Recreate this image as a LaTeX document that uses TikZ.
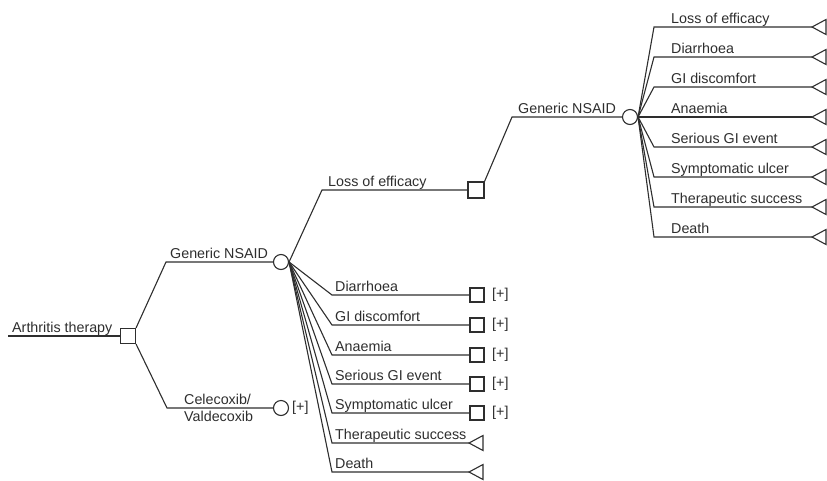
\documentclass[tikz,border=0pt]{standalone}
\usepackage{fontspec}
\setmainfont{Liberation Sans}
\begin{document}
\begin{tikzpicture}[x=1pt,y=-1pt,
  ink/.style={draw=black!82, line width=1.1pt},
  edge/.style={ink, line join=miter},
  decision/.style={ink, rectangle, minimum size=15pt, inner sep=0pt},
  chance/.style={ink, circle, minimum size=15pt, inner sep=0pt},
  lbl/.style={anchor=base west, inner sep=0pt, font=\fontsize{14.3}{16}\selectfont, text=black!82},
  plus/.style={anchor=west, inner sep=0pt, font=\fontsize{14.3}{16}\selectfont, text=black!82},
  pics/terminal/.style={code={\draw[edge] (0,0) -- (14,-7.5) -- (14,7.5) -- cycle;}},
]
\useasboundingbox (0,0) rectangle (827,480);

% root decision
\coordinate (in) at (8,336);
\node[decision] (root) at (128,336) {};
\draw[edge] (in) -- (root.west);
\node[lbl] at (12,332) {Arthritis therapy};

% option: generic NSAID
\coordinate (e1) at (166,262);
\node[chance] (n1) at (281,262) {};
\draw[edge] (root.north east) -- (e1) -- (n1.west);
\node[lbl] at (170,258) {Generic NSAID};

% option: coxib
\coordinate (e2) at (167,408);
\node[chance] (n2) at (281,408) {};
\draw[edge] (root.south east) -- (e2) -- (n2.west);
\node[lbl] at (184,404) {Celecoxib/};
\node[lbl] at (184,421) {Valdecoxib};
\node[plus] (p0) at (292,408) {[+]};

% outcomes of the generic NSAID with collapsed subtrees
\foreach \y/\t [count=\i] in {295/Diarrhoea, 325/GI discomfort, 355/Anaemia, 384/Serious GI event, 413/Symptomatic ulcer} {
  \coordinate (a\i) at (332,\y);
  \node[decision, minimum size=14pt] (s\i) at (477,\y) {};
  \draw[edge] (n1.east) -- (a\i) -- (s\i.west);
  \node[lbl] at (335,{\y-3.5}) {\t};
  \node[plus] (p\i) at (492,\y) {[+]};
}
% terminal outcomes of the generic NSAID
\foreach \y/\t [count=\i from 6] in {443/Therapeutic success, 472/Death} {
  \coordinate (a\i) at (332,\y);
  \coordinate (t\i) at (469,\y);
  \draw[edge] (n1.east) -- (a\i) -- (t\i);
  \pic at (t\i) {terminal};
  \node[lbl] at (335,{\y-3.5}) {\t};
}

% loss of efficacy: switch decision
\coordinate (e3) at (322,190);
\node[decision, minimum size=16pt] (d2) at (476,190) {};
\draw[edge] (n1.east) -- (e3) -- (d2.west);
\node[lbl] at (328,186) {Loss of efficacy};

\coordinate (e4) at (512,117);
\node[chance] (n3) at (630,117) {};
\draw[edge] (d2.north east) -- (e4) -- (n3.west);
\node[lbl] at (518,113) {Generic NSAID};

% outcomes of the second generic NSAID
\foreach \y/\t [count=\i] in {27/Loss of efficacy, 57/Diarrhoea, 87/GI discomfort, 117/Anaemia, 147/Serious GI event, 177/Symptomatic ulcer, 207/Therapeutic success, 237/Death} {
  \coordinate (b\i) at (654,\y);
  \coordinate (u\i) at (812,\y);
  \draw[edge] (n3.east) -- (b\i) -- (u\i);
  \pic at (u\i) {terminal};
  \node[lbl] at (671,{\y-4}) {\t};
}
\end{tikzpicture}
\end{document}
